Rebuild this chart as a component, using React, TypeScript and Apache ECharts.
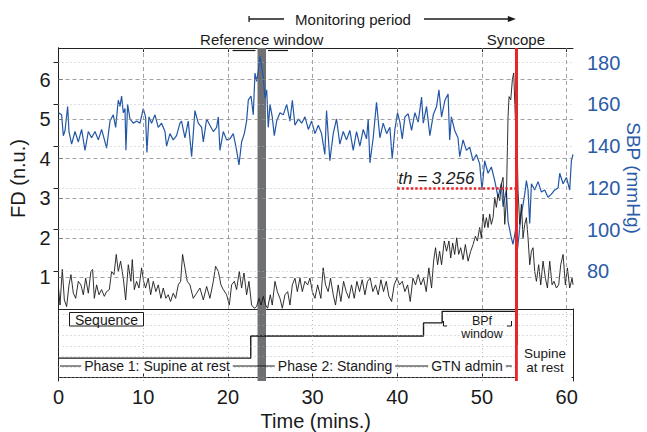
import React, { useEffect, useRef } from "react";
import * as echarts from "echarts";

// ---- data ----
const sbpTime = [
  0, 0.37, 0.57, 0.77, 1.08, 1.24, 1.55, 1.95, 2.34, 2.73,
  3.13, 3.52, 3.91, 4.31, 4.7, 5.09, 5.49, 5.68, 6.08, 6.47,
  6.75, 7.06, 7.26, 7.45, 7.65, 7.85, 7.96, 8.16, 8.44, 8.83,
  9.22, 9.62, 10.01, 10.28, 10.44, 10.68, 10.99, 11.39, 11.78, 12.17,
  12.57, 12.76, 13.16, 13.55, 13.94, 14.34, 14.53, 14.93, 15.32, 15.72,
  16.11, 16.5, 16.9, 17.1, 17.49, 17.88, 18.28, 18.67, 18.87, 19.06,
  19.46, 19.85, 20.24, 20.64, 21.03, 21.31, 21.62, 21.94, 22.21, 22.41,
  22.73, 23.0, 23.2, 23.4, 23.59, 23.79, 23.99, 24.18, 24.38, 24.58,
  24.77, 24.97, 25.24, 25.48, 25.76, 26.15, 26.54, 26.94, 27.33, 27.61,
  27.92, 28.32, 28.71, 29.1, 29.5, 29.89, 30.28, 30.68, 31.06, 31.45,
  31.65, 32.04, 32.44, 32.83, 33.22, 33.62, 34.01, 34.4, 34.8, 35.19,
  35.59, 35.98, 36.37, 36.57, 36.77, 37.16, 37.55, 37.95, 38.34, 38.74,
  39.13, 39.4, 39.72, 40.03, 40.31, 40.59, 40.9, 41.29, 41.69, 42.08,
  42.47, 42.87, 43.07, 43.46, 43.85, 44.25, 44.64, 44.92, 45.23, 45.63,
  46.0, 46.19, 46.39, 46.78, 47.17, 47.37, 47.77, 48.16, 48.55, 48.95,
  49.34, 49.73, 50.01, 50.32, 50.72, 51.11, 51.51, 51.9, 52.29, 52.49,
  52.88, 53.08, 53.47, 53.67, 53.95, 54.18, 54.34, 54.58, 54.85, 55.05,
  55.25, 55.44, 55.64, 55.84, 56.23, 56.62, 57.02, 57.41, 57.8, 58.2,
  58.59, 58.99, 59.18, 59.58, 59.97, 60.36, 60.56, 60.75,
];
const sbpValue = [
  156, 155, 145, 147.5, 159, 147, 141, 147, 142, 148,
  138, 147, 144, 147, 143, 148, 142, 139, 152, 155,
  149, 162, 159, 164, 156, 158, 138, 160, 153, 151,
  152, 151, 158, 154, 137, 154, 151, 155, 149, 151,
  147, 140, 146, 143, 145, 151, 152, 144, 152, 135,
  157, 151, 149, 142, 153, 150, 147, 149, 154, 138,
  147, 143, 143.5, 146, 138, 131, 142, 146, 152, 162,
  164, 155, 175, 171, 176, 183, 178, 173, 163, 167,
  149, 160, 154, 145, 152, 156, 155, 160, 152, 162,
  150, 153, 151, 154, 148, 152, 146, 150, 146, 136,
  157, 133, 146, 153, 141, 147, 143, 147.5, 138, 147,
  140, 148, 143.5, 153, 132, 144, 161, 144, 151, 146,
  149, 134, 148, 156, 151.5, 143.5, 154, 155.5, 147.5, 156,
  151.5, 163.5, 151, 159, 145, 155, 159, 167, 154, 162,
  165, 143, 154, 147.5, 144, 135, 143, 138, 139.5, 133,
  136, 131.5, 119, 133, 127, 130, 123.5, 115.5, 122, 111,
  119, 104, 96, 93, 99.5, 90, 96, 106, 112, 117,
  123.5, 119, 103, 122, 119, 123, 118, 119, 115.5, 117,
  119, 120, 127, 122, 125, 119, 133, 136,
];
const fdTime = [
  0, 0.18, 0.45, 0.69, 0.96, 1.24, 1.47, 1.75, 2.03, 2.34,
  2.65, 2.93, 3.21, 3.52, 3.83, 4.03, 4.23, 4.5, 4.78, 5.09,
  5.41, 5.68, 6.0, 6.27, 6.55, 6.82, 7.06, 7.33, 7.65, 7.93,
  8.24, 8.55, 8.71, 8.95, 9.22, 9.5, 9.81, 10.05, 10.28, 10.6,
  10.88, 11.19, 11.5, 11.78, 12.09, 12.37, 12.68, 12.96, 13.23, 13.55,
  13.83, 14.14, 14.42, 14.65, 14.93, 15.2, 15.52, 15.91, 16.31, 16.7,
  17.1, 17.49, 17.88, 18.28, 18.55, 18.87, 19.18, 19.46, 19.85, 20.17,
  20.44, 20.76, 21.03, 21.35, 21.62, 21.9, 22.21, 22.49, 22.8, 23.12,
  23.39, 23.67, 23.91, 24.18, 24.46, 24.69, 25.01, 25.24, 25.56, 25.84,
  26.15, 26.43, 26.74, 27.06, 27.33, 27.61, 27.92, 28.2, 28.51, 28.79,
  29.1, 29.42, 29.69, 29.97, 30.28, 30.6, 30.98, 31.25, 31.53, 31.84,
  32.12, 32.44, 32.71, 33.03, 33.34, 33.66, 33.97, 34.29, 34.6, 34.92,
  35.23, 35.55, 35.86, 36.18, 36.49, 36.81, 37.12, 37.44, 37.75, 38.07,
  38.38, 38.7, 39.01, 39.33, 39.64, 39.96, 40.27, 40.59, 40.9, 41.22,
  41.53, 41.85, 42.16, 42.47, 42.79, 43.1, 43.42, 43.73, 44.05, 44.29,
  44.52, 44.76, 45.0, 45.23, 45.55, 45.82, 46.1, 46.31, 46.54, 46.78,
  47.02, 47.25, 47.49, 47.77, 48.04, 48.36, 48.67, 48.95, 49.22, 49.46,
  49.73, 49.93, 50.13, 50.32, 50.52, 50.72, 50.91, 51.11, 51.31, 51.51,
  51.7, 51.9, 52.1, 52.29, 52.49, 52.69, 52.88, 53.08, 53.2, 53.4,
  53.59, 53.75, 53.95, 54.14, 54.26, 54.46, 54.66, 54.85, 55.05, 55.25,
  55.44, 55.64, 55.84, 56.03, 56.23, 56.43, 56.7, 56.94, 57.21, 57.49,
  57.73, 58.0, 58.28, 58.51, 58.79, 59.06, 59.3, 59.58, 59.85, 60.09,
  60.36, 60.64, 60.75,
];
const fdValue = [
  0.73, 0.3, 1.2, 0.43, 0.26, 0.81, 1.07, 0.6, 0.47, 0.9,
  0.81, 0.56, 0.98, 0.6, 1.15, 1.2, 0.47, 0.81, 0.56, 0.69,
  0.52, 0.64, 0.69, 1.15, 1.07, 1.58, 1.15, 1.41, 0.98, 0.43,
  1.32, 0.9, 1.45, 0.69, 0.9, 0.73, 1.24, 0.9, 0.73, 0.98,
  0.56, 0.9, 0.64, 0.81, 0.47, 0.73, 0.47, 0.56, 0.39, 0.6,
  0.47, 0.81, 0.9, 1.58, 1.24, 0.9, 0.81, 0.47, 0.6, 0.73,
  0.43, 0.77, 0.47, 0.9, 1.28, 1.15, 0.81, 0.69, 0.56, 0.3,
  0.81, 0.9, 0.69, 1.15, 0.73, 1.11, 0.56, 0.9, 0.3, 0.22,
  0.26, 0.47, 0.3, 0.52, 0.3, 0.22, 0.56, 0.3, 0.9, 0.64,
  0.47, 0.22, 0.56, 0.64, 0.3, 0.81, 0.98, 0.64, 0.98, 0.64,
  0.9, 0.81, 0.98, 0.64, 0.47, 0.81, 0.47, 1.24, 0.81, 0.64,
  0.98, 0.56, 0.3, 0.81, 0.39, 0.9, 0.64, 0.47, 0.81, 0.47,
  0.9, 0.64, 0.94, 0.56, 0.9, 0.98, 0.64, 0.81, 0.56, 0.94,
  0.64, 0.9, 0.52, 0.39, 0.81, 0.98, 0.81, 0.9, 0.64, 0.81,
  0.39, 0.98, 0.81, 1.07, 0.81, 0.98, 0.64, 1.24, 0.73, 1.41,
  1.75, 1.32, 1.66, 1.32, 1.92, 1.66, 1.92, 1.49, 1.87, 1.58,
  2.0, 1.58, 1.75, 1.45, 1.83, 1.41, 1.66, 1.83, 2.04, 1.92,
  2.26, 2.0, 2.6, 2.26, 2.51, 2.26, 2.6, 2.34, 2.51, 3.02,
  2.77, 3.1, 2.94, 3.36, 3.53, 2.34, 2.94, 5.06, 5.57, 5.49,
  6.0, 6.17, 4.98, 4.55, 3.19, 2.34, 2.85, 2.0, 2.34, 2.51,
  2.0, 1.32, 1.66, 1.75, 1.15, 0.9, 1.32, 0.81, 1.41, 0.98,
  0.73, 1.41, 0.81, 0.9, 0.73, 0.81, 1.32, 1.58, 0.81, 1.24,
  0.73, 0.98, 0.81,
];
const xTicks = [0, 10, 20, 30, 40, 50, 60];
const fdTicks = [1, 2, 3, 4, 5, 6];
const sbpTicks = [80, 100, 120, 140, 160, 180];
const seqGrid = [0, 1, 2, 3, 4, 5, 6];
const seqTimes = [0, 22.7, 43.1, 45.3, 54];
const seqLevels = [1.85, 3.95, 5.2, 6.3, 6.3];
const refWindow = [23.5, 24.5];
const monitorStart = 22.5;
const syncopeTime = 54;
const threshold = 3.256;
const thresholdSpan = [40, 54.3];

export default function App() {
  const ref = useRef<HTMLDivElement>(null);
  useEffect(() => {
    const chart = echarts.init(ref.current!, null, { renderer: "svg" });
    const FONT = "Liberation Sans";
    const BLUE = "#2a5ba8";
    const LINE_BLUE = "#2257a6";
    const RED = "#e8262a";
    const INK = "#1a1a1a";
    const xMax = 60.75;
    const n1 = Math.min(sbpTime.length, sbpValue.length);
    const n2 = Math.min(fdTime.length, fdValue.length);
    const sbpData = sbpTime.slice(0, n1).map((t, i) => [t, sbpValue[i]]);
    const fdData = fdTime.slice(0, n2).map((t, i) => [t, fdValue[i]]);
    const seqData = seqTimes.map((t, i) => [t, seqLevels[i]]);

    const axLine = { show: true, lineStyle: { color: "#222", width: 1 } };
    const noLabel = { show: false };
    const dashGray = { color: "#8a8a8a", width: 0.8, type: [4, 3] as any };
    const dotGray = { color: "#a8a8a8", width: 0.8, type: [1, 3] as any };
    const dotBlue = { color: "#b3b9d0", width: 0.9, type: [1, 3] as any };

    const option: any = {
      animation: false,
      textStyle: { fontFamily: FONT },
      grid: [
        { left: 58.5, top: 48, width: 514.5, height: 261, containLabel: false, outerBoundsMode: "none" },
        { left: 58.5, top: 309, width: 514.5, height: 72, containLabel: false, outerBoundsMode: "none" },
      ],
      xAxis: [
        {
          gridIndex: 0, type: "value", min: 0, max: xMax, axisLine: axLine,
          axisTick: { show: false }, axisLabel: noLabel, splitLine: { show: false },
        },
        {
          gridIndex: 0, type: "value", position: "top", min: 0, max: xMax, axisLine: axLine,
          axisTick: { show: true, inside: true, length: 4, customValues: xTicks, lineStyle: { color: "#222" } },
          axisLabel: noLabel, splitLine: { show: false },
        },
        {
          gridIndex: 1, type: "value", min: 0, max: xMax, axisLine: axLine,
          axisTick: { show: true, inside: true, length: 4, customValues: xTicks, lineStyle: { color: "#222" } },
          axisLabel: { customValues: xTicks, fontSize: 20, color: INK, margin: 6, fontFamily: FONT },
          splitLine: { show: false },
          name: "Time (mins.)", nameLocation: "middle", nameGap: 30,
          nameTextStyle: { fontSize: 20, color: INK, fontFamily: FONT },
        },
      ],
      yAxis: [
        {
          gridIndex: 0, type: "value", position: "left", min: 0.2, max: 6.8, axisLine: axLine,
          axisTick: { show: true, inside: true, length: 4, customValues: fdTicks, lineStyle: { color: "#222" } },
          axisLabel: { customValues: fdTicks, fontSize: 20, color: INK, margin: 8, fontFamily: FONT },
          splitLine: { show: false },
          name: "FD (n.u.)", nameLocation: "middle", nameGap: 29, nameRotate: 90,
          nameTextStyle: { fontSize: 20, color: INK, fontFamily: FONT },
        },
        {
          gridIndex: 0, type: "value", position: "right", min: 62, max: 187, axisLine: axLine,
          axisTick: { show: true, inside: true, length: 5, customValues: sbpTicks, lineStyle: { color: "#222" } },
          axisLabel: { customValues: sbpTicks, fontSize: 20, color: BLUE, margin: 14, fontFamily: FONT },
          splitLine: { show: false },
        },
        {
          gridIndex: 1, type: "value", position: "left", min: -0.333, max: 6.524, axisLine: axLine,
          axisTick: { show: false }, axisLabel: noLabel, splitLine: { show: false },
        },
        {
          gridIndex: 1, type: "value", position: "right", min: -0.333, max: 6.524, axisLine: axLine,
          axisTick: { show: false }, axisLabel: noLabel, splitLine: { show: false },
        },
      ],
      series: [
        {
          name: "gridTop", type: "line", xAxisIndex: 0, yAxisIndex: 0, data: [], z: 1, silent: true,
          markLine: {
            silent: true, symbol: ["none", "none"], label: { show: false }, animation: false,
            data: [
              ...fdTicks.map((v) => ({ yAxis: v, lineStyle: dashGray })),
              ...xTicks.slice(1).map((v) => ({ xAxis: v, lineStyle: dashGray })),
            ],
          },
          markArea: {
            silent: true, itemStyle: { color: "#6f7073", opacity: 1 },
            data: [[{ xAxis: refWindow[0] }, { xAxis: refWindow[1] }]],
          },
        },
        {
          name: "gridSbp", type: "line", xAxisIndex: 0, yAxisIndex: 1, data: [], z: 1, silent: true,
          markLine: {
            silent: true, symbol: ["none", "none"], label: { show: false }, animation: false,
            data: sbpTicks.map((v) => ({ yAxis: v, lineStyle: dotBlue })),
          },
        },
        {
          name: "gridBottom", type: "line", xAxisIndex: 2, yAxisIndex: 2, data: [], z: 1, silent: true,
          markLine: {
            silent: true, symbol: ["none", "none"], label: { show: false }, animation: false,
            data: [
              ...seqGrid.map((v) => ({ yAxis: v, lineStyle: dotGray })),
              ...xTicks.slice(1).map((v) => ({ xAxis: v, lineStyle: dotGray })),
            ],
          },
          markArea: {
            silent: true, itemStyle: { color: "#6f7073", opacity: 1 },
            data: [[{ xAxis: refWindow[0] }, { xAxis: refWindow[1] }]],
          },
        },
        {
          name: "SBP", type: "line", xAxisIndex: 0, yAxisIndex: 1, data: sbpData, z: 3,
          showSymbol: false, symbol: "none", lineStyle: { color: LINE_BLUE, width: 1.2 },
        },
        {
          name: "FD", type: "line", xAxisIndex: 0, yAxisIndex: 0, data: fdData, z: 4,
          showSymbol: false, symbol: "none", lineStyle: { color: INK, width: 0.9 },
          markLine: {
            silent: true, symbol: ["none", "none"], animation: false,
            lineStyle: { color: RED, width: 2.5, type: [2.5, 2] },
            label: {
              show: true, position: "insideStartTop", formatter: "th = " + threshold,
              fontStyle: "italic", fontSize: 17, color: INK, distance: 1, fontFamily: FONT,
            },
            data: [[{ coord: [thresholdSpan[0], threshold] }, { coord: [thresholdSpan[1], threshold] }]],
          },
        },
        {
          name: "Sequence", type: "line", xAxisIndex: 2, yAxisIndex: 2, data: seqData, step: "end", z: 4,
          showSymbol: false, symbol: "none", lineStyle: { color: INK, width: 1.4 },
        },
        {
          name: "syncTop", type: "line", xAxisIndex: 0, yAxisIndex: 0, data: [], z: 10, silent: true,
          markLine: {
            silent: true, symbol: ["none", "none"], label: { show: false }, animation: false,
            data: [{ xAxis: syncopeTime, lineStyle: { color: RED, width: 3, type: "solid" } }],
          },
        },
        {
          name: "syncBottom", type: "line", xAxisIndex: 2, yAxisIndex: 2, data: [], z: 10, silent: true,
          markLine: {
            silent: true, symbol: ["none", "none"], label: { show: false }, animation: false,
            data: [{ xAxis: syncopeTime, lineStyle: { color: RED, width: 3, type: "solid" } }],
          },
        },
      ],
    };
    chart.setOption(option);

    const px = (t: number) => chart.convertToPixel({ xAxisIndex: 0 }, t) as number;
    const x0 = px(monitorStart);
    const xs = px(syncopeTime);
    const xr0 = px(refWindow[0]);
    const xr1 = px(refWindow[1]);
    const xrc = px((refWindow[0] + refWindow[1]) / 2);
    const hy = 19;
    const ln = (x1: number, y1: number, x2: number, y2: number, w = 1.2) => ({
      type: "line", z: 50, shape: { x1, y1, x2, y2 }, style: { stroke: INK, lineWidth: w },
    });
    const txt = (x: number, y: number, text: string, size: number, bg?: string) => ({
      type: "text", z: 60, x, y,
      style: {
        text, fontSize: size, fontFamily: FONT, fill: INK, align: "center", verticalAlign: "middle",
        backgroundColor: bg, padding: bg ? [0, 3] : 0, lineHeight: size,
      },
    });
    chart.setOption({
      graphic: [
        {
          type: "text", z: 60, x: 633, y: 178, rotation: -Math.PI / 2,
          style: {
            text: "SBP (mmHg)", fontSize: 19, fontFamily: FONT, fill: BLUE,
            align: "center", verticalAlign: "middle", lineHeight: 19,
          },
        },
        ln(x0, hy, 284, hy, 1.3),
        ln(x0, hy - 3, x0, hy + 3, 1.3),
        txt(353, hy, "Monitoring period", 15),
        ln(424, hy, xs - 6, hy, 1.3),
        { type: "polygon", z: 50, shape: { points: [[xs, hy], [xs - 8, hy - 3], [xs - 8, hy + 3]] }, style: { fill: INK } },
        txt(xrc, 39, "Reference window", 15),
        ln(xr0 - 25, 50.5, xr0 - 2, 50.5, 1.2),
        ln(xr1 + 2, 50.5, xr1 + 22, 50.5, 1.2),
        txt(xs, 39, "Syncope", 15),
        // bottom panel
        ln(60, 366, xs - 4, 366, 1),
        txt(157, 366, "Phase 1: Supine at rest", 14, "#fff"),
        txt(335, 366, "Phase 2: Standing", 14, "#fff"),
        txt(467, 366, "GTN admin", 14, "#fff"),
        { type: "rect", z: 55, shape: { x: 69.5, y: 312.5, width: 74, height: 13.5 }, style: { fill: "#fff", stroke: INK, lineWidth: 1 } },
        txt(106.5, 319.5, "Sequence", 14),
        txt(482, 321, "BPf", 12.5),
        txt(482, 334, "window", 12.5),
        { type: "polyline", z: 50, shape: { points: [[443.5, 321], [443.5, 326], [447, 326]] }, style: { stroke: INK, lineWidth: 1, fill: null } },
        { type: "polyline", z: 50, shape: { points: [[507, 326], [511.5, 326], [511.5, 321]] }, style: { stroke: INK, lineWidth: 1, fill: null } },
        { type: "rect", z: 55, shape: { x: xs + 2, y: 345, width: 571.5 - xs - 2, height: 35.5 }, style: { fill: "#fff" } },
        txt(545, 353.5, "Supine", 13.5),
        txt(545, 367.5, "at rest", 13.5),
      ],
    });
    return () => chart.dispose();
  }, []);
  return (
    <div
      ref={ref}
      style={{ position: "absolute", left: 0, top: 0, width: 647, height: 432 }}
    />
  );
}
